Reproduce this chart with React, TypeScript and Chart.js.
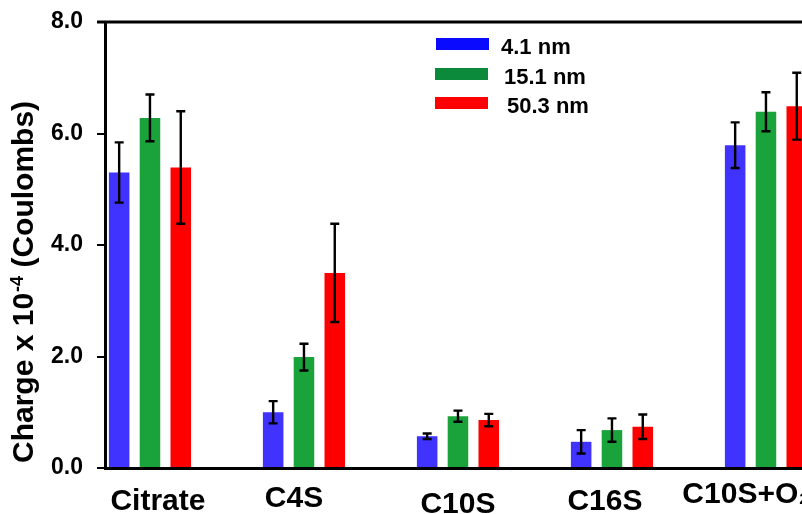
import React, { useEffect, useRef } from 'react';
import { Chart, registerables } from 'chart.js';

Chart.register(...registerables);

// ---------- data ----------
const categories = ['Citrate', 'C4S', 'C10S', 'C16S', 'C10S+O₂'];
const seriesLabels = ['4.1 nm', '15.1 nm', '50.3 nm'];
const charge41 = [5.3, 1.0, 0.57, 0.47, 5.79];
const charge151 = [6.28, 1.99, 0.93, 0.68, 6.39];
const charge503 = [5.39, 3.5, 0.86, 0.74, 6.49];
const err41 = [0.54, 0.2, 0.05, 0.21, 0.41];
const err151 = [0.42, 0.24, 0.1, 0.21, 0.35];
const err503 = [1.01, 0.88, 0.11, 0.22, 0.6];
const yTickValues = [0, 2, 4, 6, 8];

// ---------- styles ----------
const FAMILY = '"Liberation Sans", Arial, Helvetica, sans-serif';
const BAR_COLORS = ['#4033ff', '#1aa33a', '#ff0000'];
const LEGEND_COLORS = ['#0a0aff', '#0b8a3c', '#ff0000'];
const SERIES = [charge41, charge151, charge503];
const ERRORS = [err41, err151, err503];

// per-label nudges (dx, dy from axis bottom, align) to follow the reference text boxes
const LABEL_LAYOUT: [number, number, CanvasTextAlign][] = [
  [8, 42, 'center'],
  [-10, 39, 'center'],
  [0, 45, 'center'],
  [-7, 42, 'center'],
  [-83.6, 35, 'left'],
];

const decorPlugin = {
  id: 'decor',
  afterDatasetsDraw(chart: any) {
    const { ctx, scales } = chart;
    const y = scales.y;
    ctx.save();
    ctx.strokeStyle = '#000';
    ctx.lineWidth = 2.4;
    chart.data.datasets.forEach((ds: any, di: number) => {
      const meta = chart.getDatasetMeta(di);
      const errs = ERRORS[di];
      meta.data.forEach((bar: any, i: number) => {
        const v = SERIES[di][i];
        const e = errs[i];
        const top = y.getPixelForValue(v + e);
        const bot = y.getPixelForValue(v - e);
        const cx = bar.x;
        ctx.beginPath();
        ctx.moveTo(cx, top);
        ctx.lineTo(cx, bot);
        ctx.moveTo(cx - 4.5, top);
        ctx.lineTo(cx + 4.5, top);
        ctx.moveTo(cx - 4.5, bot);
        ctx.lineTo(cx + 4.5, bot);
        ctx.stroke();
      });
    });
    ctx.restore();
  },
  afterDraw(chart: any) {
    const { ctx, chartArea, scales } = chart;
    const x = scales.x;
    ctx.save();
    // top frame line
    ctx.strokeStyle = '#000';
    ctx.lineWidth = 3;
    ctx.beginPath();
    ctx.moveTo(chartArea.left - 8, chartArea.top);
    ctx.lineTo(chartArea.right, chartArea.top);
    ctx.stroke();

    // legend
    const swTop = [38, 68, 97];
    const swLeft = [436, 435, 435];
    const txtX = [501, 504, 507];
    ctx.font = `bold 22px ${FAMILY}`;
    ctx.textAlign = 'left';
    ctx.textBaseline = 'alphabetic';
    seriesLabels.forEach((lab, i) => {
      ctx.fillStyle = LEGEND_COLORS[i];
      ctx.fillRect(swLeft[i], swTop[i], 53, 12);
      ctx.fillStyle = '#000';
      ctx.fillText(lab, txtX[i], swTop[i] + 15.5);
    });

    // category labels
    ctx.font = `bold 30px ${FAMILY}`;
    ctx.fillStyle = '#000';
    categories.forEach((lab, i) => {
      const [dx, dy, align] = LABEL_LAYOUT[i];
      ctx.textAlign = align;
      ctx.fillText(lab, x.getPixelForValue(i) + dx, chartArea.bottom + dy);
    });

    // y axis title with superscript
    ctx.translate(33, 463);
    ctx.rotate(-Math.PI / 2);
    ctx.textAlign = 'left';
    ctx.textBaseline = 'alphabetic';
    ctx.font = `bold 30px ${FAMILY}`;
    const p1 = 'Charge x 10';
    ctx.fillText(p1, 0, 0);
    let pos = ctx.measureText(p1).width;
    ctx.font = `bold 18px ${FAMILY}`;
    const sup = '-4';
    ctx.fillText(sup, pos + 1, -10);
    pos += ctx.measureText(sup).width + 1;
    ctx.font = `bold 30px ${FAMILY}`;
    ctx.fillText(' (Coulombs)', pos, 0);
    ctx.restore();
  },
};

export default function App() {
  const ref = useRef<HTMLCanvasElement | null>(null);

  useEffect(() => {
    document.body.style.margin = '0';
    const canvas = ref.current;
    if (!canvas) return;
    const chart = new Chart(canvas, {
      type: 'bar',
      data: {
        datasets: seriesLabels.map((label, di) => ({
          label,
          data: categories.map((_, i) => ({ x: i, y: SERIES[di][i] })),
          backgroundColor: BAR_COLORS[di],
          borderWidth: 0,
          categoryPercentage: 0.6,
          barPercentage: 0.667,
        })),
      },
      options: {
        animation: false,
        responsive: false,
        devicePixelRatio: 1,
        layout: { padding: { top: 22, right: 0, left: 0, bottom: 0 } },
        plugins: {
          legend: { display: false },
          tooltip: { enabled: false },
        },
        scales: {
          x: {
            type: 'linear',
            min: -0.292,
            max: 4.234,
            offset: false,
            grid: { display: false },
            border: { display: true, width: 3, color: '#000', z: 1 },
            ticks: { display: false, stepSize: 1, includeBounds: false },
            afterFit: (s: any) => {
              s.height = 46;
              s.paddingLeft = 0;
              s.paddingRight = 0;
            },
          },
          y: {
            min: 0,
            max: 8,
            afterBuildTicks: (s: any) => {
              s.ticks = yTickValues.map((v) => ({ value: v }));
            },
            ticks: {
              stepSize: 2,
              color: '#000',
              padding: 14,
              font: { size: 23, weight: 'bold', family: FAMILY },
              callback: (v: any) => Number(v).toFixed(1),
            },
            grid: {
              drawOnChartArea: false,
              drawTicks: true,
              tickLength: 8,
              color: '#000',
              lineWidth: 2,
            },
            border: { display: true, width: 3, color: '#000', z: 1 },
            afterFit: (s: any) => {
              s.width = 105;
              s.paddingTop = 0;
              s.paddingBottom = 0;
            },
          },
        },
      } as any,
      plugins: [decorPlugin],
    });
    return () => chart.destroy();
  }, []);

  return (
    <div style={{ position: 'fixed', left: 0, top: 0, width: 802, height: 514, background: '#fff' }}>
      <canvas ref={ref} width={802} height={514} style={{ display: 'block', width: 802, height: 514 }} />
    </div>
  );
}
